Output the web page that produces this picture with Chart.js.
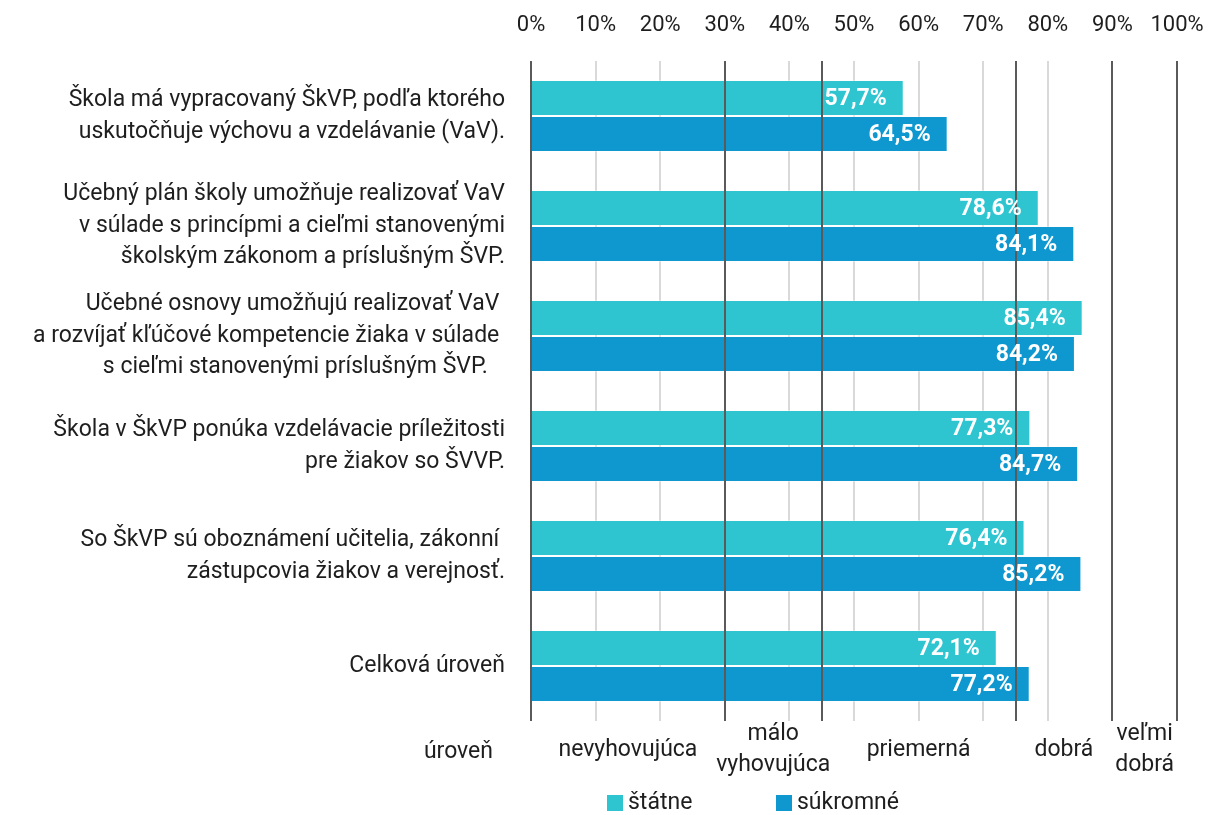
<!DOCTYPE html>
<html>
<head>
<meta charset="utf-8">
<script src="https://cdn.jsdelivr.net/npm/chart.js@4"></script>
<style>
  html, body { margin: 0; padding: 0; background: #fff; }
  #wrap { width: 1208px; height: 815px; }
</style>
</head>
<body>
<div id="wrap"><canvas id="chart"></canvas></div>
<script>
// ------------------------
// DATA
// ------------------------
const categories = [
  ["Škola má vypracovaný ŠkVP, podľa ktorého", "uskutočňuje výchovu a vzdelávanie (VaV)."],
  ["Učebný plán školy umožňuje realizovať VaV", "v súlade s princípmi a cieľmi stanovenými", "školským zákonom a príslušným ŠVP."],
  ["Učebné osnovy umožňujú realizovať VaV ", "a rozvíjať kľúčové kompetencie žiaka v súlade ", "s cieľmi stanovenými príslušným ŠVP.   "],
  ["Škola v ŠkVP ponúka vzdelávacie príležitosti", "pre žiakov so ŠVVP."],
  ["So ŠkVP sú oboznámení učitelia, zákonní ", "zástupcovia žiakov a verejnosť."],
  "Celková úroveň"
];
const statneValues = [57.7, 78.6, 85.4, 77.3, 76.4, 72.1];
const sukromneValues = [64.5, 84.1, 84.2, 84.7, 85.2, 77.2];
const seriesNames = ["štátne", "súkromné"];

// level bands on the x axis (boundaries + names)
const bandEdges = [0, 30, 45, 75, 90, 100];
const bandNames = [["nevyhovujúca"], ["málo", "vyhovujúca"], ["priemerná"], ["dobrá"], ["veľmi", "dobrá"]];
const levelTitle = "úroveň";

// ------------------------
// STYLE
// ------------------------
const FONT = "Roboto";
const TEXT = "#1e1e1e";
const CYAN = "#2ec5d1";
const BLUE = "#0e98cf";
const DARK_LINE = "#5a5a5a";
const LIGHT_LINE = "#d9d9d9";

const fmt = v => v.toFixed(1).replace(".", ",") + "%";

// ------------------------
// PLUGINS
// ------------------------
const bandPlugin = {
  id: "bands",
  afterDatasetsDraw(chart) {
    const { ctx, chartArea, scales } = chart;
    const x = scales.x;
    ctx.save();
    ctx.strokeStyle = DARK_LINE;
    ctx.lineWidth = 2;
    bandEdges.forEach(v => {
      const px = Math.round(x.getPixelForValue(v));
      ctx.beginPath();
      ctx.moveTo(px, chartArea.top);
      ctx.lineTo(px, chartArea.bottom);
      ctx.stroke();
    });

    // value labels inside bars
    ctx.fillStyle = "#fff";
    ctx.font = `bold 23px ${FONT}`;
    ctx.textAlign = "right";
    ctx.textBaseline = "middle";
    chart.data.datasets.forEach((ds, di) => {
      chart.getDatasetMeta(di).data.forEach((bar, i) => {
        ctx.fillText(fmt(ds.data[i]), bar.x - 17, bar.y + 1);
      });
    });

    // band names under the plot
    ctx.fillStyle = TEXT;
    ctx.font = `23px ${FONT}`;
    ctx.textAlign = "center";
    const midY = chartArea.bottom + 29;
    bandNames.forEach((lines, i) => {
      const cx = x.getPixelForValue((bandEdges[i] + bandEdges[i + 1]) / 2);
      const lh = 31;
      const y0 = midY - (lines.length - 1) * lh / 2;
      lines.forEach((t, j) => ctx.fillText(t, cx, y0 + j * lh));
    });
    ctx.textAlign = "right";
    ctx.fillText(levelTitle, chartArea.left - 38, midY + 2);

    // legend
    const colors = [CYAN, BLUE];
    const starts = [607, 776];
    const ly = chartArea.bottom + 82;
    ctx.textAlign = "left";
    seriesNames.forEach((name, i) => {
      ctx.fillStyle = colors[i];
      ctx.fillRect(starts[i], ly - 8, 16, 16);
      ctx.fillStyle = TEXT;
      ctx.fillText(name, starts[i] + 21, ly);
    });
    ctx.restore();
  }
};

// ------------------------
// CHART
// ------------------------
const ctx = document.getElementById("chart");
new Chart(ctx, {
  type: "bar",
  data: {
    labels: categories,
    datasets: [
      { label: seriesNames[0], data: statneValues, backgroundColor: CYAN,
        borderColor: "rgba(255,255,255,0.35)", borderWidth: 1 },
      { label: seriesNames[1], data: sukromneValues, backgroundColor: BLUE,
        borderColor: "rgba(255,255,255,0.35)", borderWidth: 1 }
    ]
  },
  options: {
    indexAxis: "y",
    responsive: true,
    maintainAspectRatio: false,
    animation: false,
    layout: { padding: { top: 0, left: 0, right: 31, bottom: 94 } },
    datasets: { bar: { categoryPercentage: 0.655, barPercentage: 1.0 } },
    plugins: {
      legend: { display: false },
      tooltip: { enabled: false }
    },
    scales: {
      x: {
        position: "top",
        min: 0,
        max: 100,
        ticks: {
          stepSize: 10,
          padding: 22,
          color: TEXT,
          font: { family: FONT, size: 22 },
          callback: v => v + "%"
        },
        grid: { color: LIGHT_LINE, lineWidth: 2, drawTicks: false },
        border: { display: false },
        afterFit: s => { s.height = 61; s.paddingLeft = 0; s.paddingRight = 0; }
      },
      y: {
        ticks: {
          padding: 26,
          color: TEXT,
          font: { family: FONT, size: 23, lineHeight: 1.37 }
        },
        grid: { display: false, drawTicks: false },
        border: { display: false },
        afterFit: s => { s.width = 531; s.paddingTop = 0; s.paddingBottom = 0; }
      }
    }
  },
  plugins: [bandPlugin]
});
</script>
</body>
</html>
